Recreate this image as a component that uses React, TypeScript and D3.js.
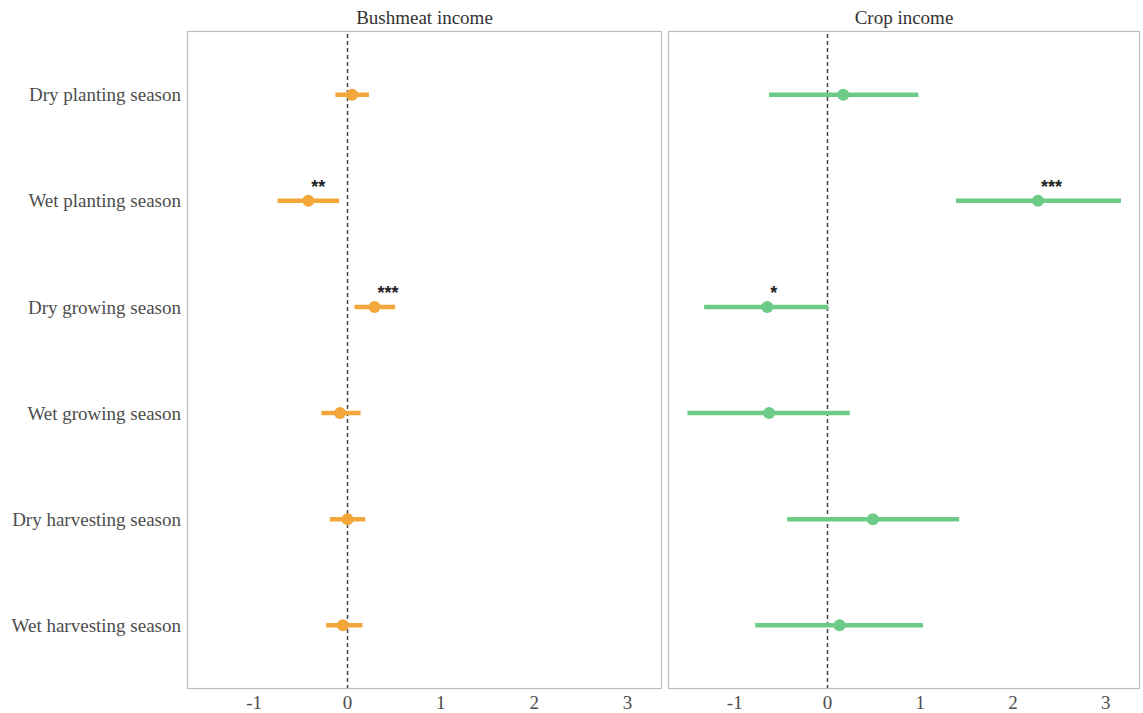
import * as d3 from 'd3'

const seasons = [
  'Dry planting season',
  'Wet planting season',
  'Dry growing season',
  'Wet growing season',
  'Dry harvesting season',
  'Wet harvesting season',
]
const panels = ['Bushmeat income', 'Crop income']
const xTicks = [-1, 0, 1, 2, 3]

// estimates with confidence bounds, one array per panel
const bushEst = [0.05, -0.42, 0.29, -0.08, 0.0, -0.05]
const bushLow = [-0.13, -0.75, 0.075, -0.28, -0.19, -0.23]
const bushHigh = [0.23, -0.09, 0.51, 0.14, 0.19, 0.16]
const bushStars = ['', '**', '***', '', '', '']

const cropEst = [0.17, 2.27, -0.65, -0.63, 0.49, 0.13]
const cropLow = [-0.63, 1.385, -1.33, -1.51, -0.435, -0.78]
const cropHigh = [0.98, 3.165, 0.01, 0.24, 1.42, 1.03]
const cropStars = ['', '***', '*', '', '', '']

const colors = ['#F3A73B', '#6CCB86']

const width = 1143
const height = 713
const top = 31
const bottom = 689
const panelX = [
  [187, 662],
  [668, 1140],
]
const font = '"Liberation Serif", "Times New Roman", serif'

export default function App() {
  const y = d3.scalePoint().domain(seasons).range([top, bottom]).padding(0.6)

  const series = [
    { est: bushEst, low: bushLow, high: bushHigh, stars: bushStars },
    { est: cropEst, low: cropLow, high: cropHigh, stars: cropStars },
  ]

  return (
    <svg
      width={width}
      height={height}
      style={{ position: 'absolute', left: 0, top: 0, background: '#fff' }}
    >
      {seasons.map(s => (
        <text
          key={s}
          x={181}
          y={y(s)}
          dy="0.35em"
          textAnchor="end"
          fontFamily={font}
          fontSize="19px"
          fill="#4d4d4d"
        >
          {s}
        </text>
      ))}
      {panels.map((title, p) => {
        const [x0, x1] = panelX[p]
        const x = d3.scaleLinear().domain([-1.72, 3.37]).range([x0, x1])
        const d = series[p]
        return (
          <g key={title}>
            <text
              x={(x0 + x1) / 2}
              y={24}
              textAnchor="middle"
              fontFamily={font}
              fontSize="19px"
              fill="#333"
            >
              {title}
            </text>
            <rect
              x={x0 + 0.5}
              y={top + 0.5}
              width={x1 - x0 - 1}
              height={bottom - top - 1}
              fill="none"
              stroke="#bdbdbd"
              strokeWidth="1.2"
            />
            <line
              x1={x(0)}
              x2={x(0)}
              y1={top + 3}
              y2={bottom - 1}
              stroke="#444"
              strokeWidth="1.5"
              strokeDasharray="4 3"
            />
            {xTicks.map(t => (
              <text
                key={t}
                x={x(t)}
                y={709}
                textAnchor="middle"
                fontFamily={font}
                fontSize="19px"
                fill="#4d4d4d"
              >
                {t}
              </text>
            ))}
            {seasons.map((s, i) => (
              <g key={s}>
                <line
                  x1={x(d.low[i])}
                  x2={x(d.high[i])}
                  y1={y(s)}
                  y2={y(s)}
                  stroke={colors[p]}
                  strokeWidth="4.5"
                />
                <circle cx={x(d.est[i])} cy={y(s)} r="6" fill={colors[p]} />
                {d.stars[i] && (
                  <text
                    x={x(d.est[i]) + 3}
                    y={y(s) - 8}
                    fontFamily='"Liberation Sans", Arial, sans-serif'
                    fontSize="18px"
                    fontWeight="bold"
                    fill="#222"
                  >
                    {d.stars[i]}
                  </text>
                )}
              </g>
            ))}
          </g>
        )
      })}
    </svg>
  )
}
